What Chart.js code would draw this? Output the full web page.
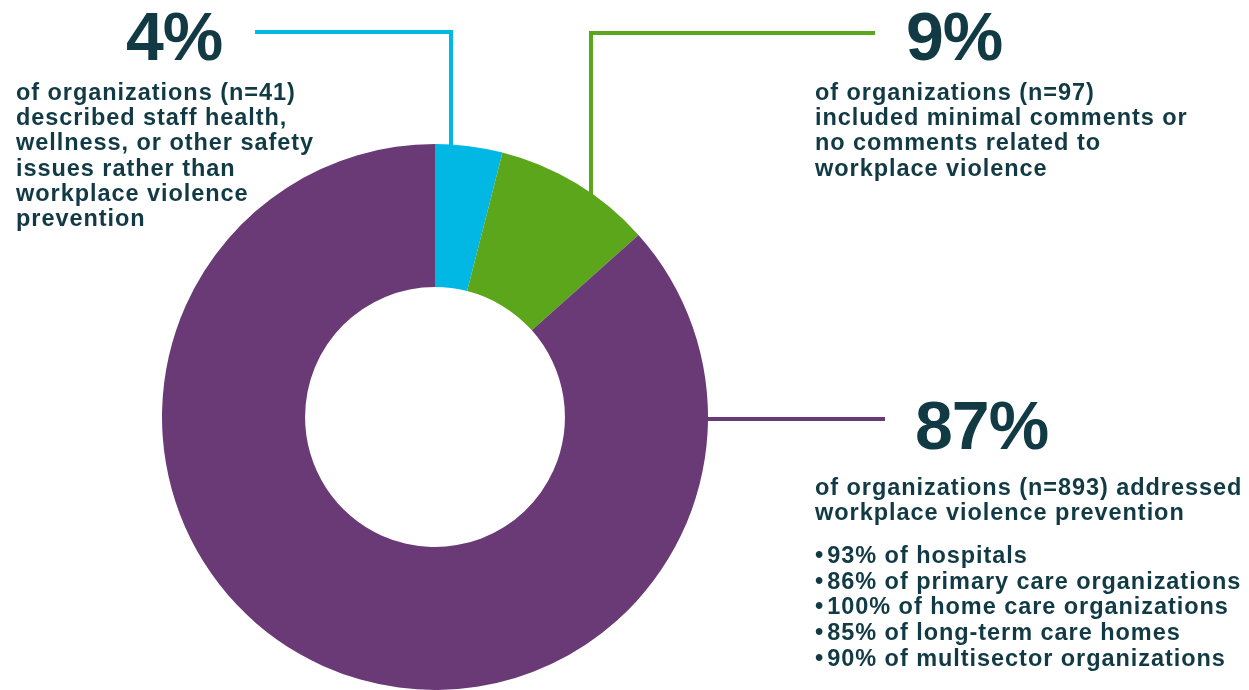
<!DOCTYPE html>
<html>
<head>
<meta charset="utf-8">
<script src="https://cdn.jsdelivr.net/npm/chart.js@4.4.1/dist/chart.umd.min.js"></script>
<style>
  html, body { margin:0; padding:0; background:#fff; }
  #wrap { position:relative; width:1249px; height:690px; overflow:hidden; }
  #donut { position:absolute; left:0; top:0; }
  .txt { position:absolute; color:#113a45; font-family:"Liberation Sans", Arial, sans-serif; font-weight:700; white-space:nowrap; }
  .big { font-size:68px; line-height:68px; letter-spacing:-1px; }
  .body { font-size:23.5px; line-height:25.2px; letter-spacing:0.95px; }
  .list { line-height:25.7px; }
  .dot { letter-spacing:0; margin-right:4px; }
</style>
</head>
<body>
<div id="wrap">
  <canvas id="donut" width="1249" height="690"></canvas>

  <div class="txt big" id="pct0" style="left:126px; top:2px;"></div>
  <div class="txt body" id="desc0" style="left:16px; top:80px;"></div>

  <div class="txt big" id="pct1" style="left:906px; top:2px;"></div>
  <div class="txt body" id="desc1" style="left:815px; top:80px;"></div>

  <div class="txt big" id="pct2" style="left:915px; top:391px;"></div>
  <div class="txt body" id="desc2" style="left:815px; top:475px;"></div>
  <div class="txt body list" id="bullets" style="left:815px; top:543px;"></div>
</div>

<script>
// organizations by how they addressed workplace violence prevention
const groups = ['Other safety issues', 'Minimal or no comments', 'Addressed WPV prevention'];
const counts = [41, 97, 893];
const percentLabels = ['4%', '9%', '87%'];
const colors = ['#00b8e3', '#5ba61b', '#6a3a77'];
const descriptions = [
  ['of organizations (n=41)', 'described staff health,', 'wellness, or other safety', 'issues rather than', 'workplace violence', 'prevention'],
  ['of organizations (n=97)', 'included minimal comments or', 'no comments related to', 'workplace violence'],
  ['of organizations (n=893) addressed', 'workplace violence prevention']
];
const sectorBullets = [
  '93% of hospitals',
  '86% of primary care organizations',
  '100% of home care organizations',
  '85% of long-term care homes',
  '90% of multisector organizations'
];

percentLabels.forEach((p, i) => { document.getElementById('pct' + i).textContent = p; });
descriptions.forEach((lines, i) => { document.getElementById('desc' + i).innerHTML = lines.join('<br>'); });
document.getElementById('bullets').innerHTML = sectorBullets.map(b => '<span class="dot">\u2022</span>' + b).join('<br>');

// connector lines: leader x (or y for the horizontal one) and where they run to
const leaders = [
  { kind:'down', x:451, top:32, from:255 },
  { kind:'down', x:591, top:33, from:875 },
  { kind:'side', y:419, to:885 }
];

const leaderPlugin = {
  id: 'leaders',
  afterDatasetsDraw(chart) {
    const ctx = chart.ctx;
    const arc = chart.getDatasetMeta(0).data[0];
    const cx = arc.x, cy = arc.y, r = arc.outerRadius;
    ctx.save();
    ctx.lineWidth = 4;
    leaders.forEach((l, i) => {
      ctx.strokeStyle = colors[i];
      ctx.beginPath();
      if (l.kind === 'down') {
        const dx = l.x - cx;
        const edgeY = cy - Math.sqrt(r * r - dx * dx);
        ctx.moveTo(l.from, l.top);
        ctx.lineTo(l.x, l.top);
        ctx.lineTo(l.x, edgeY + 2);
      } else {
        const dy = l.y - cy;
        const edgeX = cx + Math.sqrt(r * r - dy * dy);
        ctx.moveTo(edgeX - 2, l.y);
        ctx.lineTo(l.to, l.y);
      }
      ctx.stroke();
    });
    ctx.restore();
  }
};

new Chart(document.getElementById('donut'), {
  type: 'doughnut',
  data: {
    labels: groups,
    datasets: [{ data: counts, backgroundColor: colors, borderWidth: 0, hoverOffset: 0 }]
  },
  options: {
    responsive: false,
    animation: false,
    cutout: '47.6%',
    rotation: 0,
    layout: { padding: { left: 162, right: 541, top: 144, bottom: 0 } },
    plugins: { legend: { display: false }, tooltip: { enabled: false } },
    events: []
  },
  plugins: [leaderPlugin]
});
</script>
</body>
</html>
